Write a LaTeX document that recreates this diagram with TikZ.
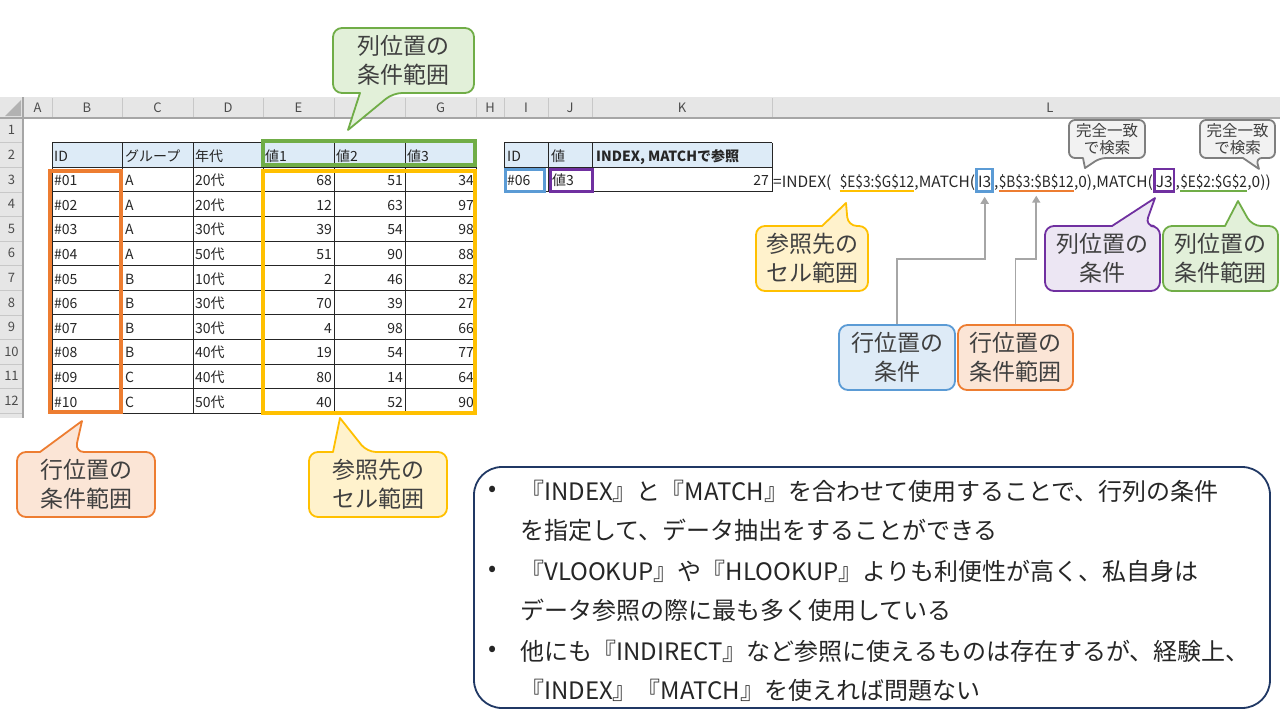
\documentclass[tikz,border=0pt]{standalone}
\usepackage{fontspec}
\usepackage{graphicx}
\setmainfont{Noto Sans CJK JP}
\usetikzlibrary{positioning,arrows.meta}

\definecolor{orgline}{HTML}{ED7D31}
\definecolor{orgfill}{HTML}{FBE5D6}
\definecolor{ylwline}{HTML}{FFC000}
\definecolor{ylwfill}{HTML}{FFF2CC}
\definecolor{grnline}{HTML}{70AD47}
\definecolor{grnfill}{HTML}{E2F0D9}
\definecolor{bluline}{HTML}{5B9BD5}
\definecolor{blufill}{HTML}{DEEBF7}
\definecolor{prpline}{HTML}{7030A0}
\definecolor{prpfill}{HTML}{ECE6F3}
\definecolor{gryline}{HTML}{7F7F7F}
\definecolor{gryfill}{HTML}{F2F2F2}
\definecolor{boxnavy}{HTML}{203864}
\definecolor{hdrgray}{HTML}{E6E6E6}
\definecolor{hdrline}{HTML}{C8C8C8}
\definecolor{headfill}{HTML}{DDEBF7}
\definecolor{conngray}{HTML}{A6A6A6}
\definecolor{ink}{HTML}{262626}
\definecolor{sayink}{HTML}{404040}

\newcommand{\narrow}[1]{\scalebox{0.88}[1]{#1}}

\begin{document}
\begin{tikzpicture}[x=1pt, y=-1pt,
	cell/.style={inner sep=0pt, anchor=base west, text=ink, font=\fontsize{14}{14}\selectfont},
	val/.style={cell, anchor=base east},
	colhdr/.style={inner sep=0pt, text=black!70, font=\fontsize{13}{13}\selectfont},
	fpart/.style={inner sep=0pt, text=ink, font=\fontsize{15.5}{15.5}\selectfont, text height=18pt, text depth=4.5pt},
	say/.style={align=center, inner sep=0pt, text=sayink, font=\fontsize{23}{29}\selectfont},
	smallsay/.style={align=center, inner sep=0pt, text=sayink, font=\fontsize{15.5}{17}\selectfont},
	bubble/.style={line width=1.8pt, line join=round},
	conn/.style={draw=conngray, line width=1.8pt, -{Triangle[length=7pt,width=8pt]}, shorten >=4pt},
	note/.style={inner sep=0pt, anchor=west, text=ink, font=\fontsize{24}{24}\selectfont}
]
\fill[white] (0,0) rectangle (1280,720);
\useasboundingbox (0,0) rectangle (1280,720);

\fill[hdrgray] (0,97) rectangle (1280,118);
\fill[hdrgray] (0,118) rectangle (23,418);
\draw[black!35, line width=1.2pt] (0,118) -- (1280,118);
\draw[black!35, line width=1.2pt] (23,97) -- (23,418);
\fill[black!30] (21,100) -- (21,116) -- (5,116) -- cycle;

\foreach \cl/\xa/\xb in {A/23/52, B/52/122, C/122/193, D/193/263, E/263/334, F/334/405, G/405/476, H/476/504, I/504/548, J/548/592, K/592/772, L/772/1328} {
	\draw[hdrline] (\xb, 98) -- (\xb, 117);
	\node[colhdr] (h\cl) at ({(\xa+\xb)/2}, 108) {\cl};
}
\foreach \r in {1, ..., 12} {
	\draw[hdrline] (0, {118+24.6*\r}) -- (22, {118+24.6*\r});
	\node[colhdr] (r\r) at (11.5, {118+24.6*\r-12.3}) {\r};
}

\fill[headfill] (52,142.6) rectangle (476,167.2);
\foreach \xa in {52, 122, 193, 263, 334, 405, 476}
	\draw[black!85, line width=0.9pt] (\xa, 142.6) -- (\xa, 413.2);
\foreach \r in {0, ..., 11}
	\draw[black!85, line width=0.9pt] (52, {142.6+24.6*\r}) -- (476, {142.6+24.6*\r});

\node[cell] (b2) at (54,161) {ID};
\node[cell] (c2) at (125,161) {グループ};
\node[cell] (d2) at (195,161) {年代};
\node[cell] (e2) at (265,161) {値1};
\node[cell] (f2) at (336,161) {値2};
\node[cell] (g2) at (407,161) {値3};

\foreach \id/\grp/\age/\va/\vb/\vc [count=\r from 3] in {01/A/20/68/51/34, 02/A/20/12/63/97, 03/A/30/39/54/98, 04/A/50/51/90/88, 05/B/10/2/46/82, 06/B/30/70/39/27, 07/B/30/4/98/66, 08/B/40/19/54/77, 09/C/40/80/14/64, 10/C/50/40/52/90} {
	\node[cell] (b\r) at (54, {118+24.6*\r-6.1}) {\#\id};
	\node[cell] (c\r) at (125, {118+24.6*\r-6.1}) {\grp};
	\node[cell] (d\r) at (195, {118+24.6*\r-6.1}) {\age{}代};
	\node[val] (e\r) at (332, {118+24.6*\r-6.1}) {\va};
	\node[val] (f\r) at (403, {118+24.6*\r-6.1}) {\vb};
	\node[val] (g\r) at (474, {118+24.6*\r-6.1}) {\vc};
}

\fill[headfill] (504,142.6) rectangle (772,167.2);
\foreach \xa in {504, 548, 592, 772}
	\draw[black!85, line width=0.9pt] (\xa, 142.6) -- (\xa, 191.8);
\foreach \ya in {142.6, 167.2, 191.8}
	\draw[black!85, line width=0.9pt] (504, \ya) -- (772, \ya);
\node[cell] (i2) at (507,161) {ID};
\node[cell] (j2) at (551,161) {値};
\node[cell, font=\fontsize{14}{14}\selectfont\bfseries] (k2) at (596,161) {INDEX, MATCHで参照};
\node[cell] (i3) at (507,185.7) {\#06};
\node[cell] (j3) at (552,185.7) {値3};
\node[val] (k3) at (769,185.7) {27};

\draw[orgline, line width=4pt] (49.5,170.5) rectangle (120.5,412);
\draw[ylwline, line width=4pt] (262.5,171) rectangle (474.5,412.5);
\draw[grnline, line width=4pt] (263,141) rectangle (475,164.5);
\draw[bluline, line width=3pt] (505,169) rectangle (544.5,191.5);
\draw[prpline, line width=3pt] (550,169) rectangle (592,191.5);

\node[fpart, anchor=base west] (f0) at (773,187) {=INDEX(};
\node[fpart, base right=8pt of f0] (fE) {\narrow{\$E\$3:\$G\$12}};
\node[fpart, base right=0pt of fE] (f1) {,MATCH(};
\node[fpart, base right=0pt of f1, draw=bluline, line width=2.5pt, inner xsep=1.5pt] (fI) {I3};
\node[fpart, base right=0pt of fI] (f2) {,};
\node[fpart, base right=0pt of f2] (fB) {\narrow{\$B\$3:\$B\$12}};
\node[fpart, base right=0pt of fB] (f3) {,0),MATCH(};
\node[fpart, base right=0pt of f3, draw=prpline, line width=2.5pt, inner xsep=1.5pt] (fJ) {J3};
\node[fpart, base right=0pt of fJ] (f4) {,};
\node[fpart, base right=0pt of f4] (fG) {\narrow{\$E\$2:\$G\$2}};
\node[fpart, base right=0pt of fG] (f5) {,0))};
\draw[ylwline, line width=2.5pt] ([yshift=-4pt]fE.base west) -- ([yshift=-4pt]fE.base east);
\draw[orgline, line width=2.5pt] ([yshift=-4pt]fB.base west) -- ([yshift=-4pt]fB.base east);
\draw[grnline, line width=2.5pt] ([yshift=-4pt]fG.base west) -- ([yshift=-4pt]fG.base east);

\filldraw[bubble, draw=grnline, fill=grnfill, rounded corners=9pt] (360,93) -- (333,93) -- (333,28) -- (474,28) -- (474,93) -- (393,93) [sharp corners] -- (348,130) -- cycle;
\node[say] (colrng) at (403.5,60.5) {列位置の\\条件範囲};

\filldraw[bubble, draw=orgline, fill=orgfill, rounded corners=9pt] (40,452) -- (17,452) -- (17,517) -- (155,517) -- (155,452) -- (75,452) [sharp corners] -- (82,421) -- cycle;
\node[say] (rowrng) at (86,484.5) {行位置の\\条件範囲};

\filldraw[bubble, draw=ylwline, fill=ylwfill, rounded corners=9pt] (333,452) -- (309,452) -- (309,517) -- (447,517) -- (447,452) -- (367,452) [sharp corners] -- (340,418) -- cycle;
\node[say] (refrng) at (378,484.5) {参照先の\\セル範囲};

\filldraw[bubble, draw=ylwline, fill=ylwfill, rounded corners=9pt] (822,226) -- (756,226) -- (756,291) -- (868,291) -- (868,226) -- (848,226) [sharp corners] -- (846,203) -- cycle;
\node[say] (refrng2) at (812,258.5) {参照先の\\セル範囲};

\filldraw[bubble, draw=prpline, fill=prpfill, rounded corners=9pt] (1112,226) -- (1045,226) -- (1045,291) -- (1160,291) -- (1160,226) -- (1145,226) [sharp corners] -- (1155,198) -- cycle;
\node[say] (colcond) at (1102.5,258.5) {列位置の\\条件};

\filldraw[bubble, draw=grnline, fill=grnfill, rounded corners=9pt] (1225,226) -- (1163,226) -- (1163,291) -- (1278,291) -- (1278,226) -- (1252,226) [sharp corners] -- (1238,201) -- cycle;
\node[say] (colrng2) at (1220.5,258.5) {列位置の\\条件範囲};

\filldraw[bubble, draw=gryline, fill=gryfill, rounded corners=6pt] (1083,158) -- (1069,158) -- (1069,120) -- (1145,120) -- (1145,158) -- (1100,158) [sharp corners] -- (1085,168) -- cycle;
\node[smallsay] (exact1) at (1107,139) {完全一致\\で検索};
\filldraw[bubble, draw=gryline, fill=gryfill, rounded corners=6pt] (1243,158) -- (1200,158) -- (1200,120) -- (1275,120) -- (1275,158) -- (1256,158) [sharp corners] -- (1259,169) -- cycle;
\node[smallsay] (exact2) at (1237.5,139) {完全一致\\で検索};

\node[say, draw=bluline, fill=blufill, line width=1.8pt, rounded corners=9pt, minimum width=116pt, minimum height=65pt] (rowcond) at (897,357.5) {行位置の\\条件};
\node[say, draw=orgline, fill=orgfill, line width=1.8pt, rounded corners=9pt, minimum width=115pt, minimum height=65pt] (rowrng2) at (1015.5,357.5) {行位置の\\条件範囲};
\draw[conn] (rowcond.north) -- ++(0,-65) -| (fI.south);
\draw[conn] (rowrng2.north) -- ++(0,-65) -| (fB.south);

\draw[boxnavy, line width=1.8pt, fill=white, rounded corners=28pt] (474,467) rectangle (1270,708);
\node[note, anchor=center] (d1) at (493,491) {•};
\node[note, anchor=center] (d3) at (493,571) {•};
\node[note, anchor=center] (d5) at (493,651) {•};
\node[note] (n1) at (520,491) {『INDEX』と『MATCH』を合わせて使用することで、行列の条件};
\node[note] (n2) at (520,530) {を指定して、データ抽出をすることができる};
\node[note] (n3) at (520,571) {『VLOOKUP』や『HLOOKUP』よりも利便性が高く、私自身は};
\node[note] (n4) at (520,610) {データ参照の際に最も多く使用している};
\node[note] (n5) at (520,651) {他にも『INDIRECT』など参照に使えるものは存在するが、経験上、};
\node[note] (n6) at (520,690) {『INDEX』『MATCH』を使えれば問題ない};

\end{tikzpicture}
\end{document}
